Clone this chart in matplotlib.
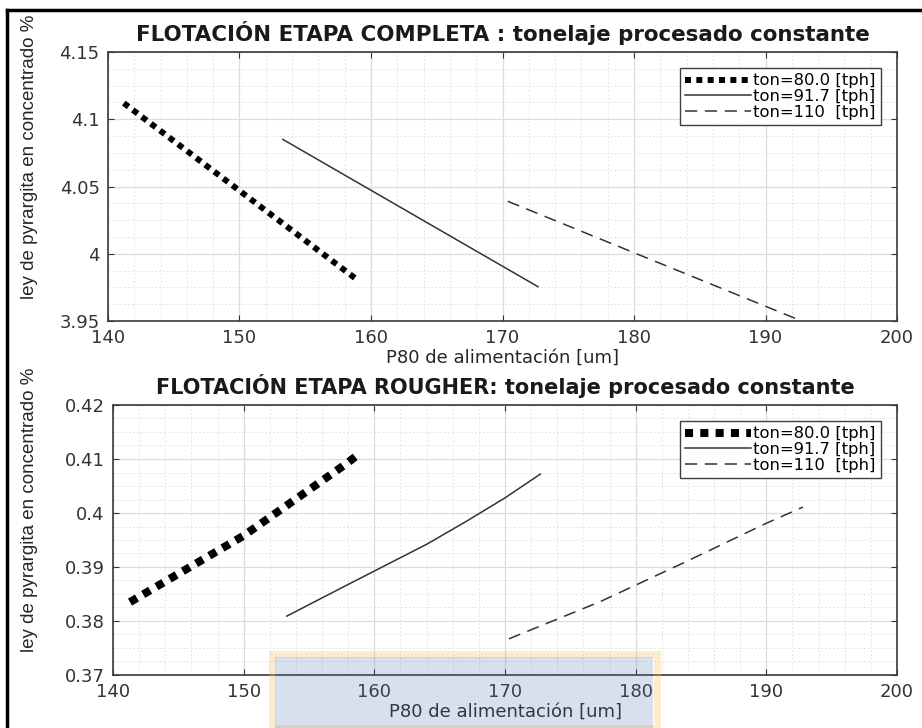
import numpy as np
import matplotlib
matplotlib.use("Agg")
import matplotlib.pyplot as plt
from matplotlib.ticker import MultipleLocator
from matplotlib.patches import Rectangle

# valores
p80_80 = [141.2, 158.9]
ley_80 = [4.112, 3.981]
p80_917 = [153.3, 172.7]
ley_917 = [4.085, 3.9755]
p80_110 = [170.4, 193.0]
ley_110 = [4.039, 3.949]

p80_r80 = [141.3, 144.2, 150.0, 154.3, 157.9, 158.8]
ley_r80 = [0.3835, 0.3876, 0.3958, 0.4031, 0.4092, 0.4109]
p80_r917 = [153.3, 158.1, 164.0, 167.0, 170.0, 172.7]
ley_r917 = [0.3809, 0.3869, 0.3942, 0.3984, 0.4028, 0.4072]
p80_r110 = [170.3, 177.3, 183.6, 190.0, 192.8]
ley_r110 = [0.3767, 0.3836, 0.3907, 0.3981, 0.4011]

labels = ["ton=80.0 [tph]", "ton=91.7 [tph]", "ton=110  [tph]"]

plt.rcParams["font.family"] = ["DejaVu Sans"]

fig = plt.figure(figsize=(9.22, 7.28), dpi=100)
W, H = 922, 728


def box(l, t, r, b):
    return [l / W, 1 - b / H, (r - l) / W, (b - t) / H]


def style_axes(ax, ylim, ymaj, ymin, lab_x):
    ax.set_xlim(140, 200)
    ax.set_ylim(*ylim)
    ax.xaxis.set_major_locator(MultipleLocator(10))
    ax.xaxis.set_minor_locator(MultipleLocator(2))
    ax.yaxis.set_major_locator(MultipleLocator(ymaj))
    ax.yaxis.set_minor_locator(MultipleLocator(ymin))
    ax.grid(True, which="major", color="#dcdcdc", linewidth=0.9)
    ax.grid(True, which="minor", color="#e4e4e4", linewidth=0.7, linestyle=(0, (2, 2)))
    ax.set_axisbelow(True)
    ax.tick_params(which="major", direction="in", length=4, top=True, right=True,
                   labelsize=13, colors="#333333", pad=6)
    ax.tick_params(which="minor", length=0)
    for s in ax.spines.values():
        s.set_color("#3a3a3a")
        s.set_linewidth(1.2)
    ax.set_xlabel("P80 de alimentación [um]", fontsize=13, labelpad=1, color="#262626")
    ax.set_ylabel("ley de pyrargita en concentrado %", fontsize=13.5,
                  family=["Liberation Sans", "DejaVu Sans"], color="#262626")
    ax.yaxis.set_label_coords(lab_x, 0.61)


def add_legend(ax):
    ax.legend(loc="upper right", fontsize=11.8, frameon=True, fancybox=False,
              edgecolor="#404040", framealpha=1, borderaxespad=1.0, handlelength=4.0,
              handletextpad=0.15, labelspacing=0.05, borderpad=0.3)


ax1 = fig.add_axes(box(108, 52, 897, 321))
ax1.plot(p80_80, ley_80, color="black", linewidth=4.3, linestyle=(0, (1, 0.9)), label=labels[0])
ax1.plot(p80_917, ley_917, color="#333333", linewidth=1.1, label=labels[1])
ax1.plot(p80_110, ley_110, color="#333333", linewidth=1.1, linestyle=(0, (8, 5)), label=labels[2])
style_axes(ax1, (3.95, 4.15), 0.05, 0.0125, -0.089)
ax1.set_yticks([3.95, 4.0, 4.05, 4.1, 4.15])
ax1.set_yticklabels(["3.95", "4", "4.05", "4.1", "4.15"])
ax1.set_title("FLOTACIÓN ETAPA COMPLETA : tonelaje procesado constante",
              fontsize=15.4, fontweight="bold", pad=8, color="#1a1a1a")
add_legend(ax1)

ax2 = fig.add_axes(box(113, 405, 897, 675))
ax2.plot(p80_r80, ley_r80, color="black", linewidth=5.8, linestyle=(0, (1, 0.9)), label=labels[0])
ax2.plot(p80_r917, ley_r917, color="#333333", linewidth=1.1, label=labels[1])
ax2.plot(p80_r110, ley_r110, color="#333333", linewidth=1.1, linestyle=(0, (8, 5)), label=labels[2])
style_axes(ax2, (0.37, 0.42), 0.01, 0.0025, -0.096)
ax2.set_yticks([0.37, 0.38, 0.39, 0.40, 0.41, 0.42])
ax2.set_yticklabels(["0.37", "0.38", "0.39", "0.4", "0.41", "0.42"])
ax2.set_title("FLOTACIÓN ETAPA ROUGHER: tonelaje procesado constante",
              fontsize=15, fontweight="bold", pad=8, color="#1a1a1a")
add_legend(ax2)

# marco exterior
fig.add_artist(plt.Line2D([7 / W, 7 / W], [0, 1 - 10 / H], color="black", linewidth=2.5))
fig.add_artist(plt.Line2D([7 / W, 1], [1 - 10 / H, 1 - 10 / H], color="black", linewidth=2.5))

# marca de agua
fig.add_artist(Rectangle((271.5 / W, 0), (656.5 - 271.5) / W, 74.5 / H, transform=fig.transFigure,
                         facecolor="none", edgecolor="#f5c060", linewidth=5, alpha=0.3, zorder=10))
fig.add_artist(Rectangle((275 / W, 0), (653 - 275) / W, 71 / H, transform=fig.transFigure,
                         facecolor="#4f74b0", edgecolor="none", alpha=0.22, zorder=11))

fig.savefig("out.png", dpi=100)
